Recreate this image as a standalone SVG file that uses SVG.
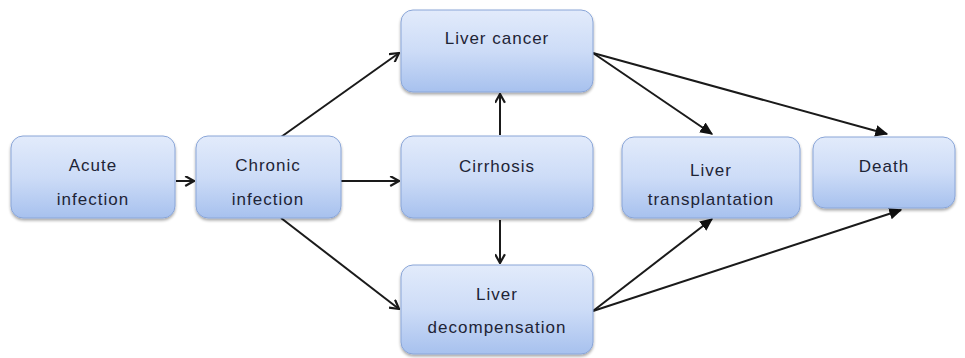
<svg xmlns="http://www.w3.org/2000/svg" width="965" height="358" viewBox="0 0 965 358">
<defs>
  <linearGradient id="g" x1="0" y1="0" x2="0" y2="1">
    <stop offset="0" stop-color="#e2ebfb"/>
    <stop offset="0.5" stop-color="#cddcf7"/>
    <stop offset="1" stop-color="#a7c1ee"/>
  </linearGradient>
  <filter id="sh" x="-10%" y="-10%" width="120%" height="130%">
    <feGaussianBlur in="SourceAlpha" stdDeviation="1.5"/>
    <feOffset dx="0" dy="2" result="b"/>
    <feComponentTransfer><feFuncA type="linear" slope="0.35"/></feComponentTransfer>
    <feMerge><feMergeNode/><feMergeNode in="SourceGraphic"/></feMerge>
  </filter>
  <marker id="open" viewBox="0 0 10 10" refX="9" refY="5" markerWidth="11" markerHeight="11" markerUnits="userSpaceOnUse" orient="auto">
    <path d="M1,0.5 L9,5 L1,9.5" fill="none" stroke="#1a1a1a" stroke-width="2"/>
  </marker>
  <marker id="fill" viewBox="0 0 10 10" refX="9" refY="5" markerWidth="13" markerHeight="13" markerUnits="userSpaceOnUse" orient="auto">
    <path d="M0,0.5 L10,5 L0,9.5 Z" fill="#111"/>
  </marker>
</defs>
<style>
  .box { fill: url(#g); stroke: #8aa6d8; stroke-width: 1; filter: url(#sh); }
  .t { font-family: "Liberation Sans", Arial, sans-serif; font-size: 17px; fill: #1e2436; text-anchor: middle; letter-spacing: 1px; }
  .c { stroke: #1a1a1a; stroke-width: 2; fill: none; }
  .o { marker-end: url(#open); }
  .f { marker-end: url(#fill); }
</style>
<g id="connectors">
  <line class="c o" x1="176" y1="181" x2="194" y2="181"/>
  <line class="c o" x1="281" y1="137" x2="399" y2="53"/>
  <line class="c o" x1="341" y1="181" x2="399" y2="181"/>
  <line class="c o" x1="281" y1="218" x2="399" y2="309"/>
  <line class="c o" x1="500" y1="135" x2="500" y2="94"/>
  <line class="c o" x1="500" y1="220" x2="500" y2="263"/>
  <line class="c f" x1="593" y1="53" x2="712" y2="134"/>
  <line class="c f" x1="593" y1="53" x2="887" y2="134"/>
  <line class="c f" x1="593" y1="311" x2="712" y2="219"/>
  <line class="c f" x1="593" y1="311" x2="901" y2="210"/>
</g>
<g id="acute">
  <rect class="box" x="11" y="136" width="164" height="82" rx="12"/>
  <text class="t" x="93" y="171">Acute</text>
  <text class="t" x="93" y="205">infection</text>
</g>
<g id="chronic">
  <rect class="box" x="196" y="136" width="145" height="82" rx="12"/>
  <text class="t" x="268" y="171">Chronic</text>
  <text class="t" x="268" y="205">infection</text>
</g>
<g id="cancer">
  <rect class="box" x="401" y="10" width="192" height="82" rx="12"/>
  <text class="t" x="497" y="44">Liver cancer</text>
</g>
<g id="cirrhosis">
  <rect class="box" x="401" y="136" width="192" height="82" rx="12"/>
  <text class="t" x="497" y="172">Cirrhosis</text>
</g>
<g id="decomp">
  <rect class="box" x="401" y="265" width="192" height="89" rx="12"/>
  <text class="t" x="497" y="300">Liver</text>
  <text class="t" x="497" y="333">decompensation</text>
</g>
<g id="transplant">
  <rect class="box" x="622" y="137" width="178" height="81" rx="12"/>
  <text class="t" x="711" y="176">Liver</text>
  <text class="t" x="711" y="205">transplantation</text>
</g>
<g id="death">
  <rect class="box" x="813" y="137" width="142" height="71" rx="12"/>
  <text class="t" x="884" y="172">Death</text>
</g>
</svg>
